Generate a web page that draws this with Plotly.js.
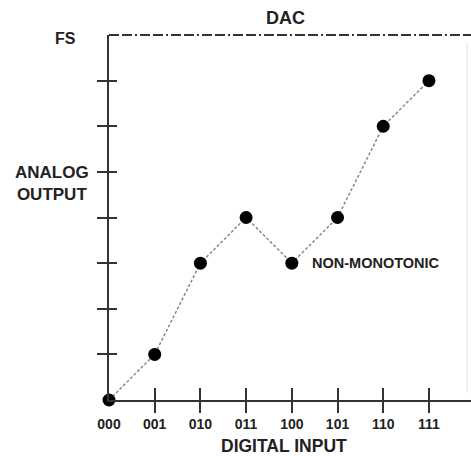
<!DOCTYPE html>
<html>
<head>
<meta charset="utf-8">
<script src="https://cdn.plot.ly/plotly-3.0.1.min.js"></script>
<style>html,body{margin:0;padding:0;background:#fff;}#chart{width:471px;height:456px;}</style>
</head>
<body>
<div id="chart"></div>
<script>
// ---- data ----
var codes = ['000', '001', '010', '011', '100', '101', '110', '111'];
var codeIndex = [0, 1, 2, 3, 4, 5, 6, 7];
var analogOut = [0, 1, 3, 4, 3, 4, 6, 7];
var fullScale = 8;
var yTickLevels = [1, 2, 3, 4, 5, 6, 7];
var xTickMarks = [1, 2, 3, 4, 5, 6, 7];
var noteIndex = 4;
var noteText = 'NON-MONOTONIC';
var chartTitle = 'DAC';

var FONT = 'Liberation Sans, Arial, sans-serif';
var INK = '#222';
var AX = '#333';

var traces = [
  {
    x: codeIndex, y: analogOut, type: 'scatter', mode: 'lines+markers',
    line: {color: '#8a8a8a', width: 1.5, dash: '3px,2px'},
    marker: {color: '#000', size: 13},
    cliponaxis: false, hoverinfo: 'skip', showlegend: false
  },
  {x: [], y: [], xaxis: 'x2', yaxis: 'y2', showlegend: false},
  {x: [], y: [], xaxis: 'x3', yaxis: 'y3', showlegend: false}
];

var xr = [0, 7.92];
var yr = [0, fullScale];

function tickAxis(over, anchor, vals, dir, len, range) {
  return {
    overlaying: over, anchor: anchor, range: range, fixedrange: true,
    tickmode: 'array', tickvals: vals, ticks: dir, ticklen: len,
    tickwidth: 2, tickcolor: AX, showticklabels: false,
    showline: false, showgrid: false, zeroline: false
  };
}

var layout = {
  width: 471, height: 456,
  margin: {l: 109, r: 0, t: 35, b: 56},
  paper_bgcolor: '#fff', plot_bgcolor: '#fff',
  font: {family: FONT, color: INK},
  xaxis: {
    range: xr, fixedrange: true,
    tickmode: 'array', tickvals: codeIndex, ticktext: codes, ticks: '',
    ticklabelstandoff: 10,
    tickfont: {family: FONT, size: 14, weight: 'bold', color: INK},
    showline: true, linecolor: AX, linewidth: 2,
    showgrid: false, zeroline: false
  },
  yaxis: {
    range: yr, fixedrange: true,
    tickmode: 'array', tickvals: yTickLevels, ticks: '', showticklabels: false,
    showline: true, linecolor: AX, linewidth: 2,
    showgrid: false, zeroline: false
  },
  xaxis2: tickAxis('x', 'y2', xTickMarks, 'outside', 12, xr),
  yaxis2: tickAxis('y', 'x2', yTickLevels, 'outside', 11, yr),
  xaxis3: tickAxis('x', 'y3', xTickMarks, 'inside', 12, xr),
  yaxis3: tickAxis('y', 'x3', yTickLevels, 'inside', 8, yr),
  shapes: [
    // full-scale line at the top of the y range (paper y = 1 == fullScale)
    {type: 'line', xref: 'paper', x0: 0, x1: 1, yref: 'paper', y0: 1, y1: 1,
     line: {color: '#333', width: 2, dash: '10px,3px,10px,3px,2px,3px'}},
    {type: 'line', xref: 'paper', x0: 0.989, x1: 0.989, yref: 'paper', y0: 0.02, y1: 0.98,
     line: {color: '#e2e2e2', width: 1}}
  ],
  annotations: [
    {text: '<b>' + chartTitle + '</b>', xref: 'paper', x: (285 - 109) / 362, xanchor: 'center',
     yref: 'paper', y: 1 + (35 - 17.5) / 365, yanchor: 'middle', showarrow: false,
     font: {family: FONT, size: 18, color: INK}},
    {text: '<b>FS</b>', xref: 'paper', x: (65 - 109) / 362, xanchor: 'center',
     yref: 'y', y: fullScale, yanchor: 'middle', yshift: -3, showarrow: false,
     font: {family: FONT, size: 16, color: INK}},
    {text: '<b>ANALOG<br>OUTPUT</b>', xref: 'paper', x: (52 - 109) / 362, xanchor: 'center',
     yref: 'paper', y: (400 - 183) / 365, yanchor: 'middle', align: 'center', showarrow: false,
     font: {family: FONT, size: 17, color: INK}},
    {text: '<b>DIGITAL INPUT</b>', xref: 'paper', x: (284 - 109) / 362, xanchor: 'center',
     yref: 'paper', y: -(446 - 400) / 365, yanchor: 'middle', showarrow: false,
     font: {family: FONT, size: 17.5, color: INK}},
    {text: '<b>' + noteText + '</b>', xref: 'x', x: codeIndex[noteIndex], xanchor: 'left', xshift: 18,
     yref: 'y', y: analogOut[noteIndex], yanchor: 'middle', showarrow: false,
     font: {family: FONT, size: 14.5, color: INK}}
  ],
  showlegend: false
};

Plotly.newPlot('chart', traces, layout, {staticPlot: true, displayModeBar: false});
</script>
</body>
</html>
